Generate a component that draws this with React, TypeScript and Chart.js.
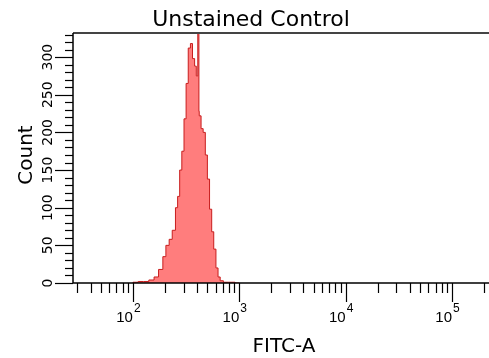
import React, { useEffect, useRef } from "react";
import { Chart, registerables } from "chart.js";

Chart.register(...registerables);

const chartTitle = "Unstained Control";
const xAxisTitle = "FITC-A";
const yAxisTitle = "Count";

// histogram bins: left edge (FITC-A value) and count
const fitcValues = [
  100, 112, 126, 141, 158, 174, 191, 204, 219, 234, 251, 263, 275, 288, 302,
  316, 331, 347, 363, 380, 394, 407, 417, 420, 437, 457, 479, 501, 525, 550,
  575, 603, 631, 661, 708, 794, 912, 1000,
];
const counts = [
  0, 1, 2, 2, 4, 8, 18, 35, 50, 58, 70, 100, 115, 150, 175,
  218, 265, 312, 318, 298, 288, 275, 345, 228, 222, 205, 200, 170, 138, 98,
  68, 45, 20, 8, 3, 1, 1, 0,
];

const yTickValues = [0, 50, 100, 150, 200, 250, 300];
const yTickLabels = ["0", "50", "100", "150", "200", "250", "300"];
const xDecades = [2, 3, 4, 5];
const xDecadeLabels = ["2", "3", "4", "5"];

const X_MIN = 27.3;
const X_MAX = 222800;
const Y_MIN = 0;
const Y_MAX = 332;

const FONT = '"DejaVu Sans", "Liberation Sans", Arial, sans-serif';
const FONT_TICK = '"Liberation Sans", Arial, sans-serif';

const axesPlugin = {
  id: "flowAxes",
  afterDraw(chart: any) {
    const ctx = chart.ctx as CanvasRenderingContext2D;
    const area = chart.chartArea;
    const xs = chart.scales.x;
    const ys = chart.scales.y;
    ctx.save();

    // top frame line
    ctx.strokeStyle = "#444";
    ctx.lineWidth = 2;
    ctx.beginPath();
    ctx.moveTo(area.left, area.top);
    ctx.lineTo(area.right, area.top);
    ctx.stroke();

    // axis lines
    ctx.strokeStyle = "#000";
    ctx.lineWidth = 1.5;
    ctx.beginPath();
    ctx.moveTo(area.left, area.top);
    ctx.lineTo(area.left, area.bottom);
    ctx.lineTo(area.right, area.bottom);
    ctx.stroke();

    // y ticks
    ctx.lineWidth = 1.2;
    for (let v = 0; v <= Y_MAX; v += 10) {
      const y = Math.round(ys.getPixelForValue(v)) + 0.5;
      const major = v % 50 === 0;
      ctx.beginPath();
      ctx.moveTo(area.left, y);
      ctx.lineTo(area.left - (major ? 18 : 8), y);
      ctx.stroke();
    }
    ctx.fillStyle = "#000";
    ctx.font = `14px ${FONT}`;
    ctx.textAlign = "center";
    ctx.textBaseline = "middle";
    yTickValues.forEach((v, i) => {
      const y = ys.getPixelForValue(v);
      ctx.save();
      ctx.translate(area.left - 25, y);
      ctx.rotate(-Math.PI / 2);
      ctx.fillText(yTickLabels[i], 0, 0);
      ctx.restore();
    });

    // x ticks
    for (let d = 1; d <= 5; d++) {
      for (let m = 1; m <= 9; m++) {
        const v = m * Math.pow(10, d);
        if (v < X_MIN || v > X_MAX) continue;
        const x = Math.round(xs.getPixelForValue(v)) + 0.5;
        ctx.beginPath();
        ctx.moveTo(x, area.bottom);
        ctx.lineTo(x, area.bottom + (m === 1 ? 19 : 10));
        ctx.stroke();
      }
    }
    xDecades.forEach((d, i) => {
      const x = xs.getPixelForValue(Math.pow(10, d));
      ctx.font = `15px ${FONT_TICK}`;
      ctx.textAlign = "right";
      ctx.textBaseline = "alphabetic";
      ctx.fillText("10", x, area.bottom + 39);
      ctx.font = `12px ${FONT_TICK}`;
      ctx.textAlign = "left";
      ctx.fillText(xDecadeLabels[i], x + 1, area.bottom + 29);
    });

    // titles
    ctx.font = `22px ${FONT}`;
    ctx.textAlign = "center";
    ctx.textBaseline = "alphabetic";
    ctx.fillText(chartTitle, 251, 26);

    ctx.font = `20px ${FONT}`;
    ctx.fillText(xAxisTitle, 284, 352);

    ctx.save();
    ctx.translate(32, 155);
    ctx.rotate(-Math.PI / 2);
    ctx.fillText(yAxisTitle, 0, 0);
    ctx.restore();

    ctx.restore();
  },
};

export default function App() {
  const canvasRef = useRef<HTMLCanvasElement | null>(null);

  useEffect(() => {
    if (!canvasRef.current) return;
    const data = fitcValues.map((x, i) => ({ x, y: counts[i] }));
    const chart = new Chart(canvasRef.current, {
      type: "line",
      data: {
        datasets: [
          {
            data,
            stepped: "after",
            fill: "origin",
            backgroundColor: "rgb(255,125,125)",
            borderColor: "rgb(200,30,30)",
            borderWidth: 1,
            pointRadius: 0,
          } as any,
        ],
      },
      options: {
        animation: false,
        responsive: false,
        devicePixelRatio: 1,
        layout: { padding: { left: 73, right: 0, top: 33, bottom: 75 } },
        plugins: {
          legend: { display: false },
          tooltip: { enabled: false },
          title: { display: false },
        },
        scales: {
          x: { type: "logarithmic", min: X_MIN, max: X_MAX, display: false },
          y: { type: "linear", min: Y_MIN, max: Y_MAX, display: false },
        },
      },
      plugins: [axesPlugin],
    });
    return () => chart.destroy();
  }, []);

  return (
    <div style={{ position: "absolute", left: 0, top: 0, width: 489, height: 358, background: "#fff" }}>
      <canvas ref={canvasRef} width={489} height={358} style={{ display: "block" }} />
    </div>
  );
}
